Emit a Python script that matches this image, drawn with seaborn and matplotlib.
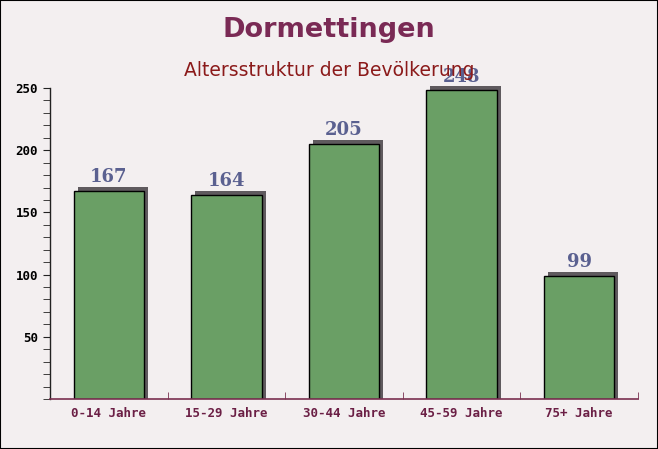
import matplotlib
matplotlib.use("Agg")
import matplotlib.pyplot as plt
import matplotlib.transforms as mtransforms
from matplotlib.ticker import MultipleLocator
import seaborn as sns
import pandas as pd

categories = ["0-14 Jahre", "15-29 Jahre", "30-44 Jahre", "45-59 Jahre", "75+ Jahre"]
values = [167, 164, 205, 248, 99]
title = "Dormettingen"
subtitle = "Altersstruktur der Bevölkerung"

df = pd.DataFrame({"cat": categories, "val": values})

sns.set_style("white")
plt.rcParams['font.family'] = ['DejaVu Sans']

bg = "#f3eff0"
fig = plt.figure(figsize=(6.58, 4.49), dpi=100, facecolor=bg)
ax = fig.add_axes([50/658, 50/449, 588/658, 311/449])
ax.set_facecolor((0, 0, 0, 0))

# shadow bars (two layers: shifted right+up and shifted right only)
for dy in (4, 0):
    start = len(ax.patches)
    sns.barplot(data=df, x="cat", y="val", ax=ax, color="#5f5a5e", width=0.6,
                saturation=1, edgecolor="none", linewidth=0, errorbar=None)
    off = mtransforms.ScaledTranslation(4/100, dy/100, fig.dpi_scale_trans)
    for p in ax.patches[start:]:
        p.set_transform(ax.transData + off)
        p.set_clip_on(False)

sns.barplot(data=df, x="cat", y="val", ax=ax, color="#6a9f65", width=0.6,
            saturation=1, edgecolor="black", linewidth=1.0, errorbar=None)

for i, v in enumerate(values):
    ax.annotate(str(v), (i, v), xytext=(0, 3.5), textcoords="offset points",
                ha="center", va="bottom", fontsize=13, fontweight="bold",
                family="DejaVu Serif", color="#5a6090", zorder=1)

ax.set_ylim(0, 250)
ax.set_xlim(-0.5, 4.5)
ax.yaxis.set_minor_locator(MultipleLocator(10))
ax.set_xticks([i + 0.5 for i in range(5)], minor=True)
ax.set_xticks(range(5))
ax.set_xticklabels(categories)
ax.set_yticks([50, 100, 150, 200, 250])
ax.set_xlabel("")
ax.set_ylabel("")

for s in ["top", "right"]:
    ax.spines[s].set_visible(False)
ax.spines["left"].set_color("#222222")
ax.spines["left"].set_linewidth(1.0)
ax.spines["bottom"].set_color("#7a3050")
ax.spines["bottom"].set_linewidth(1.2)

ax.tick_params(axis="y", which="both", direction="out", left=True, length=5, color="#222222",
               labelsize=9, labelcolor="black")
ax.tick_params(axis="x", which="major", bottom=False, labelsize=9, labelcolor="#6b1f45", pad=2)
ax.tick_params(axis="x", which="minor", direction="in", bottom=True, length=5, color="#7a3050")
for lbl in ax.get_xticklabels() + ax.get_yticklabels():
    lbl.set_family("DejaVu Sans Mono")
    lbl.set_fontweight("bold")

fig.text(0.5, 1 - 30/449, title, ha="center", va="center", fontsize=19.5,
         fontweight="bold", color="#7a2a55")
fig.text(0.5, 1 - 70/449, subtitle, ha="center", va="center", fontsize=13.5,
         color="#8b1a1a", zorder=5)

border = plt.Rectangle((0, 0), 1, 1, transform=fig.transFigure, fill=False,
                       edgecolor="black", linewidth=1.5)
fig.patches.append(border)

fig.savefig("out.png", dpi=100, facecolor=bg)
